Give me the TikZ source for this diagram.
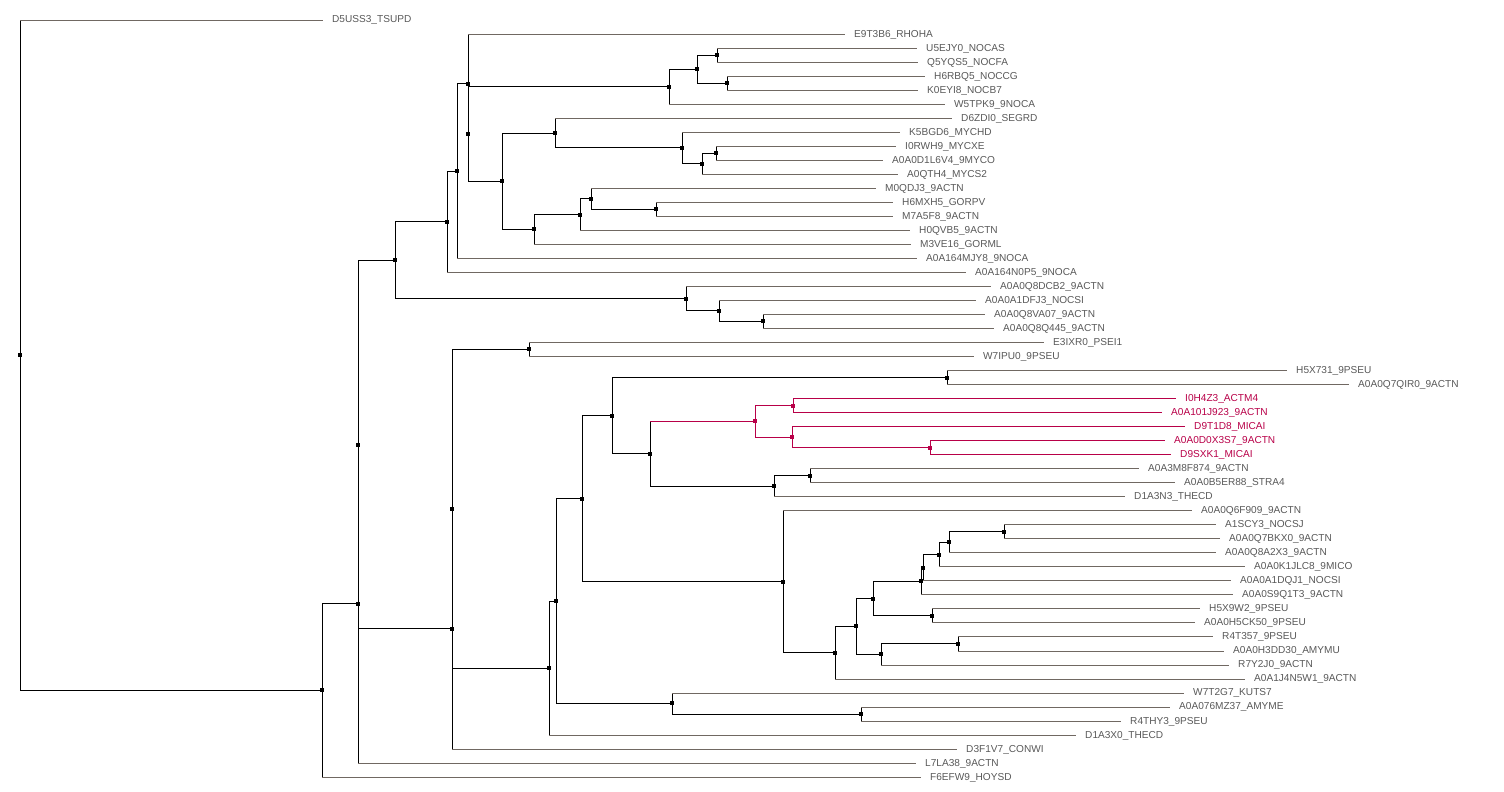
\documentclass[tikz,border=0pt]{standalone}
\usepackage{fontspec}
\setmainfont{Liberation Sans}
\usetikzlibrary{backgrounds}
\definecolor{twiggray}{RGB}{112,104,98}
\definecolor{labelgray}{RGB}{88,88,88}
\definecolor{hitred}{RGB}{184,0,72}
\tikzset{
  knot/.style={rectangle,fill=black,minimum size=4pt,inner sep=0pt},
  hitknot/.style={knot,fill=hitred},
  leaf/.style={anchor=west,inner xsep=9pt,inner ysep=0pt,text height=6pt,text depth=0pt,
    text=labelgray,font=\fontsize{10.1}{12}\selectfont},
  hitleaf/.style={leaf,text=hitred},
  branch/.style={draw=black,line width=0.95pt},
  twig/.style={draw=twiggray,line width=0.8pt},
  hitbranch/.style={draw=hitred,line width=0.95pt}
}
\begin{document}
\begin{tikzpicture}[x=1pt,y=-14.02pt]
\useasboundingbox (0pt,5.98pt) rectangle (1504pt,-786.02pt);
% leaves
\node[leaf] (L01) at (323,1) {D5USS3\_TSUPD};
\node[leaf] (L02) at (845,2) {E9T3B6\_RHOHA};
\node[leaf] (L03) at (917,3) {U5EJY0\_NOCAS};
\node[leaf] (L04) at (918,4) {Q5YQS5\_NOCFA};
\node[leaf] (L05) at (925,5) {H6RBQ5\_NOCCG};
\node[leaf] (L06) at (918,6) {K0EYI8\_NOCB7};
\node[leaf] (L07) at (945,7) {W5TPK9\_9NOCA};
\node[leaf] (L08) at (952,8) {D6ZDI0\_SEGRD};
\node[leaf] (L09) at (900,9) {K5BGD6\_MYCHD};
\node[leaf] (L10) at (896,10) {I0RWH9\_MYCXE};
\node[leaf] (L11) at (883,11) {A0A0D1L6V4\_9MYCO};
\node[leaf] (L12) at (898,12) {A0QTH4\_MYCS2};
\node[leaf] (L13) at (876,13) {M0QDJ3\_9ACTN};
\node[leaf] (L14) at (893,14) {H6MXH5\_GORPV};
\node[leaf] (L15) at (893,15) {M7A5F8\_9ACTN};
\node[leaf] (L16) at (910,16) {H0QVB5\_9ACTN};
\node[leaf] (L17) at (911,17) {M3VE16\_GORML};
\node[leaf] (L18) at (917,18) {A0A164MJY8\_9NOCA};
\node[leaf] (L19) at (966,19) {A0A164N0P5\_9NOCA};
\node[leaf] (L20) at (991,20) {A0A0Q8DCB2\_9ACTN};
\node[leaf] (L21) at (976,21) {A0A0A1DFJ3\_NOCSI};
\node[leaf] (L22) at (985,22) {A0A0Q8VA07\_9ACTN};
\node[leaf] (L23) at (994,23) {A0A0Q8Q445\_9ACTN};
\node[leaf] (L24) at (1044,24) {E3IXR0\_PSEI1};
\node[leaf] (L25) at (974,25) {W7IPU0\_9PSEU};
\node[leaf] (L26) at (1287,26) {H5X731\_9PSEU};
\node[leaf] (L27) at (1349,27) {A0A0Q7QIR0\_9ACTN};
\node[hitleaf] (L28) at (1176,28) {I0H4Z3\_ACTM4};
\node[hitleaf] (L29) at (1162,29) {A0A101J923\_9ACTN};
\node[hitleaf] (L30) at (1185,30) {D9T1D8\_MICAI};
\node[hitleaf] (L31) at (1165,31) {A0A0D0X3S7\_9ACTN};
\node[hitleaf] (L32) at (1171,32) {D9SXK1\_MICAI};
\node[leaf] (L33) at (1139,33) {A0A3M8F874\_9ACTN};
\node[leaf] (L34) at (1175,34) {A0A0B5ER88\_STRA4};
\node[leaf] (L35) at (1125,35) {D1A3N3\_THECD};
\node[leaf] (L36) at (1192,36) {A0A0Q6F909\_9ACTN};
\node[leaf] (L37) at (1216,37) {A1SCY3\_NOCSJ};
\node[leaf] (L38) at (1220,38) {A0A0Q7BKX0\_9ACTN};
\node[leaf] (L39) at (1216,39) {A0A0Q8A2X3\_9ACTN};
\node[leaf] (L40) at (1245,40) {A0A0K1JLC8\_9MICO};
\node[leaf] (L41) at (1231,41) {A0A0A1DQJ1\_NOCSI};
\node[leaf] (L42) at (1233,42) {A0A0S9Q1T3\_9ACTN};
\node[leaf] (L43) at (1200,43) {H5X9W2\_9PSEU};
\node[leaf] (L44) at (1195,44) {A0A0H5CK50\_9PSEU};
\node[leaf] (L45) at (1213,45) {R4T357\_9PSEU};
\node[leaf] (L46) at (1224,46) {A0A0H3DD30\_AMYMU};
\node[leaf] (L47) at (1229,47) {R7Y2J0\_9ACTN};
\node[leaf] (L48) at (1245,48) {A0A1J4N5W1\_9ACTN};
\node[leaf] (L49) at (1184,49) {W7T2G7\_KUTS7};
\node[leaf] (L50) at (1170,50) {A0A076MZ37\_AMYME};
\node[leaf] (L51) at (1121,51) {R4THY3\_9PSEU};
\node[leaf] (L52) at (1076,52) {D1A3X0\_THECD};
\node[leaf] (L53) at (957,53) {D3F1V7\_CONWI};
\node[leaf] (L54) at (916,54) {L7LA38\_9ACTN};
\node[leaf] (L55) at (921,55) {F6EFW9\_HOYSD};
% inner nodes
\node[knot] (root) at (20,24.9102) {};
\node[knot] (A) at (322,48.8204) {};
\node[knot] (B) at (358,42.6409) {};
\node[knot] (B1) at (358,31.2818) {};
\node[knot] (C) at (395,18.1328) {};
\node[knot] (C1) at (447,15.3906) {};
\node[knot] (C1a) at (457,11.7813) {};
\node[knot] (C1b) at (468,5.5625) {};
\node[knot] (C1c) at (468,9.125) {};
\node[knot] (N) at (669,5.75) {};
\node[knot] (N1) at (697,4.5) {};
\node[knot] (N2) at (717,3.5) {};
\node[knot] (N3) at (727,5.5) {};
\node[knot] (M) at (502,12.5) {};
\node[knot] (M1) at (555,9.0625) {};
\node[knot] (M1a) at (682,10.125) {};
\node[knot] (M1b) at (702,11.25) {};
\node[knot] (M1c) at (716,10.5) {};
\node[knot] (M2) at (534,15.9375) {};
\node[knot] (M2a) at (580,14.875) {};
\node[knot] (M2b) at (591,13.75) {};
\node[knot] (M2c) at (656,14.5) {};
\node[knot] (C2) at (686,20.875) {};
\node[knot] (C2a) at (719,21.75) {};
\node[knot] (C2b) at (763,22.5) {};
\node[knot] (D) at (452,44.4307) {};
\node[knot] (D1) at (452,35.8615) {};
\node[knot] (P1) at (529,24.5) {};
\node[knot] (D2) at (549,47.2229) {};
\node[knot] (D3) at (556,42.4458) {};
\node[knot] (D4) at (582,35.1416) {};
\node[knot] (D6) at (612,29.2188) {};
\node[knot] (D7) at (947,26.5) {};
\node[knot] (D8) at (650,31.9375) {};
\node[hitknot] (R) at (755,29.625) {};
\node[hitknot] (R1) at (793,28.5) {};
\node[hitknot] (R2) at (792,30.75) {};
\node[hitknot] (R3) at (930,31.5) {};
\node[knot] (D9) at (774,34.25) {};
\node[knot] (D9a) at (810,33.5) {};
\node[knot] (E) at (783,41.0645) {};
\node[knot] (E1) at (835,46.1289) {};
\node[knot] (E2) at (856,44.2578) {};
\node[knot] (E3) at (873,42.2656) {};
\node[knot] (E5) at (921,41.0313) {};
\node[knot] (E7) at (923,40.0625) {};
\node[knot] (E8) at (939,39.125) {};
\node[knot] (E9) at (949,38.25) {};
\node[knot] (E10) at (1004,37.5) {};
\node[knot] (E6) at (932,43.5) {};
\node[knot] (E4) at (881,46.25) {};
\node[knot] (E11) at (958,45.5) {};
\node[knot] (D5) at (672,49.75) {};
\node[knot] (D5a) at (861,50.5) {};
% branches
\begin{scope}[on background layer]
\foreach \p/\c in {root/A,A/B,B/B1,B1/C,B1/D,C/C1,C/C2,C1/C1a,C1a/C1b,C1b/C1c,C1c/N,C1c/M,
    N/N1,N1/N2,N1/N3,M/M1,M/M2,M1/M1a,M1a/M1b,M1b/M1c,M2/M2a,M2a/M2b,M2b/M2c,C2/C2a,C2a/C2b,
    D/D1,D1/P1,D1/D2,D2/D3,D3/D4,D3/D5,D4/D6,D4/E,D6/D7,D6/D8,D8/D9,D9/D9a,
    E/E1,E1/E2,E2/E3,E2/E4,E3/E5,E3/E6,E5/E7,E7/E8,E8/E9,E9/E10,E4/E11,D5/D5a}
  \draw[branch] (\p.center) |- (\c.center);
\foreach \p/\c in {root/L01,A/L55,B/L54,C1/L19,C1a/L18,C1b/L02,N/L07,N2/L03,N2/L04,N3/L05,N3/L06,
    M1/L08,M1a/L09,M1b/L12,M1c/L10,M1c/L11,M2/L17,M2a/L16,M2b/L13,M2c/L14,M2c/L15,
    C2/L20,C2a/L21,C2b/L22,C2b/L23,D/L53,P1/L24,P1/L25,D2/L52,D7/L26,D7/L27,
    D9/L35,D9a/L33,D9a/L34,E/L36,E1/L48,E5/L42,E7/L41,E8/L40,E9/L39,E10/L37,E10/L38,
    E6/L43,E6/L44,E4/L47,E11/L45,E11/L46,D5/L49,D5a/L50,D5a/L51}{
  \draw[branch] (\p.center) -- (\p.center |- \c.west);
  \draw[twig] (\p.center |- \c.west) -- (\c.west);
}
% highlighted clade
\draw[branch] (D8.center) -- (D8.center |- R.center);
\draw[hitbranch] (D8.center |- R.center) -- (R.center);
\foreach \p/\c in {R/R1,R/R2,R2/R3}
  \draw[hitbranch] (\p.center) |- (\c.center);
\foreach \p/\c in {R1/L28,R1/L29,R2/L30,R3/L31,R3/L32}
  \draw[hitbranch,line width=0.8pt] (\p.center) |- (\c.west);
\end{scope}
\end{tikzpicture}
\end{document}
